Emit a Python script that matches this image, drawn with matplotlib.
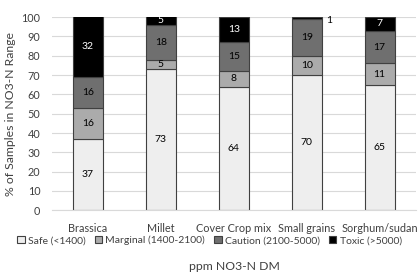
import matplotlib.pyplot as plt
import numpy as np

plt.rcParams['font.family'] = ['Lato', 'DejaVu Sans']

crops = ['Brassica', 'Millet', 'Cover Crop mix', 'Small grains', 'Sorghum/sudan']
safe = [37, 73, 64, 70, 65]
marginal = [16, 5, 8, 10, 11]
caution = [16, 18, 15, 19, 17]
toxic = [32, 5, 13, 1, 7]

series = [('Safe (<1400)', safe, '#eeeeee', 'black'),
          ('Marginal (1400-2100)', marginal, '#ababab', 'black'),
          ('Caution (2100-5000)', caution, '#6f6f6f', 'black'),
          ('Toxic (>5000)', toxic, '#000000', 'white')]

fig = plt.figure(figsize=(4.19, 2.76), dpi=100)
ax = fig.add_axes([0.123, 0.238, 0.87, 0.70])

x = np.arange(len(crops))
bottom = np.zeros(len(crops))
for name, vals, col, tcol in series:
    vals = np.array(vals, dtype=float)
    ax.bar(x, vals, 0.41, bottom=bottom, color=col, edgecolor='#404040',
           linewidth=0.8, label=name, zorder=2)
    for i, v in enumerate(vals):
        mid = bottom[i] + v / 2
        if v < 3:
            # tiny segment: label sits outside, to the right of the bar
            ax.text(x[i] + 0.27, 98.5, '%d' % v,
                    ha='left', va='center', fontsize=7.5, color='black')
        else:
            ax.text(x[i], mid, '%d' % v, ha='center', va='center',
                    fontsize=7.5, color=tcol)
    bottom += vals

ax.set_xlim(-0.5, len(crops) - 0.5)
ax.set_ylim(0, 100)
ax.set_yticks(range(0, 101, 10))
ax.yaxis.grid(True, color='#d9d9d9', linewidth=0.8, zorder=0)
ax.set_axisbelow(True)
for s in ['top', 'right', 'left']:
    ax.spines[s].set_visible(False)
ax.spines['bottom'].set_color('#d9d9d9')
ax.tick_params(axis='both', length=0, labelsize=7.8, colors='#404040')
ax.tick_params(axis='x', pad=9)
ax.tick_params(axis='y', pad=8)
ax.set_xticks(x)
ax.set_xticklabels(crops)
ax.set_ylabel('% of Samples in NO3-N Range', fontsize=8.8, color='#404040',
              labelpad=4)

leg = fig.legend(loc='center', bbox_to_anchor=(0.5, 0.128), ncol=4,
                 frameon=False, fontsize=7.5, handlelength=0.7,
                 handletextpad=0.3, columnspacing=0.9)
for t in leg.get_texts():
    t.set_color('#404040')
fig.text(0.56, 0.035, 'ppm NO3-N DM', ha='center', va='center',
         fontsize=8.8, color='#404040')

plt.savefig('out.png', dpi=100)
